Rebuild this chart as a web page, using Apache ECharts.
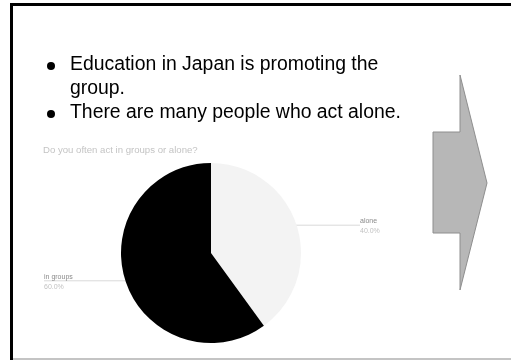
<!DOCTYPE html>
<html>
<head>
<meta charset="utf-8">
<script src="https://cdn.jsdelivr.net/npm/echarts@6/dist/echarts.min.js"></script>
<style>html,body{margin:0;padding:0;background:#fff}#c{width:511px;height:360px}</style>
</head>
<body>
<div id="c"></div>
<script>
const chartTitle = 'Do you often act in groups or alone?';
const categories = ['alone', 'in groups'];
const values = [40, 60];
const sliceColors = ['#f3f3f3', '#000000'];
const bulletLines = [
  ['Education in Japan is promoting the', 'group.'],
  ['There are many people who act alone.']
];

const chart = echarts.init(document.getElementById('c'), null, {renderer: 'canvas'});
const FONT = '"Liberation Sans", Arial, sans-serif';

const graphics = [];
// slide frame
graphics.push({type: 'rect', shape: {x: 10, y: 3, width: 501, height: 3}, style: {fill: '#000'}, z: 10});
graphics.push({type: 'rect', shape: {x: 10, y: 3, width: 3, height: 357}, style: {fill: '#000'}, z: 10});
graphics.push({type: 'rect', shape: {x: 13, y: 358, width: 498, height: 2}, style: {fill: '#c4c4c4'}, z: 10});

// bullets
let y = 65;
bulletLines.forEach(lines => {
  graphics.push({type: 'circle', shape: {cx: 51, cy: y + 1, r: 4}, style: {fill: '#000'}});
  lines.forEach(t => {
    graphics.push({type: 'text', x: 70, y: y, style: {text: t, font: '19.4px ' + FONT, fill: '#000', verticalAlign: 'middle', align: 'left'}});
    y += 24;
  });
});

// arrow
graphics.push({type: 'polygon', shape: {points: [[433,132],[460,132],[460,75],[487,183],[460,290],[460,233],[433,233]]},
  style: {fill: '#b7b7b7', stroke: '#8e8e8e', lineWidth: 1}});

const CX = 211, CY = 253;

chart.setOption({
  animation: false,
  backgroundColor: '#fff',
  title: {
    text: chartTitle, left: 43, top: 145, padding: 0,
    textStyle: {fontFamily: FONT, fontSize: 9.6, fontWeight: 'normal', color: '#c4c4c4'}
  },
  graphic: graphics,
  series: [{
    type: 'pie',
    center: [CX, CY],
    radius: 90,
    startAngle: 90,
    clockwise: true,
    data: categories.map((c, i) => ({name: c, value: values[i], itemStyle: {color: sliceColors[i]}})),
    label: {
      show: true,
      formatter: p => '{n|' + p.name + '}\n{v|' + p.percent.toFixed(1) + '%}',
      rich: {
        n: {fontFamily: FONT, fontSize: 7, color: '#8a8a8a', lineHeight: 10},
        v: {fontFamily: FONT, fontSize: 7, color: '#c2c2c2', lineHeight: 10}
      }
    },
    labelLine: {show: true, length: 5, length2: 30, lineStyle: {color: '#d9d9d9', width: 1}},
    labelLayout: function (p) {
      const pts = p.labelLinePoints;
      if (!pts) return {};
      const s = pts[0];
      const right = s[0] > CX;
      const endX = right ? 360 : 44;
      const startX = right ? s[0] - 6 : s[0] + 5;
      return {
        x: endX, y: s[1] + 1, align: 'left', verticalAlign: 'middle',
        labelLinePoints: [[startX, s[1]], [endX, s[1]], [endX, s[1]]]
      };
    }
  }]
});
</script>
</body>
</html>
